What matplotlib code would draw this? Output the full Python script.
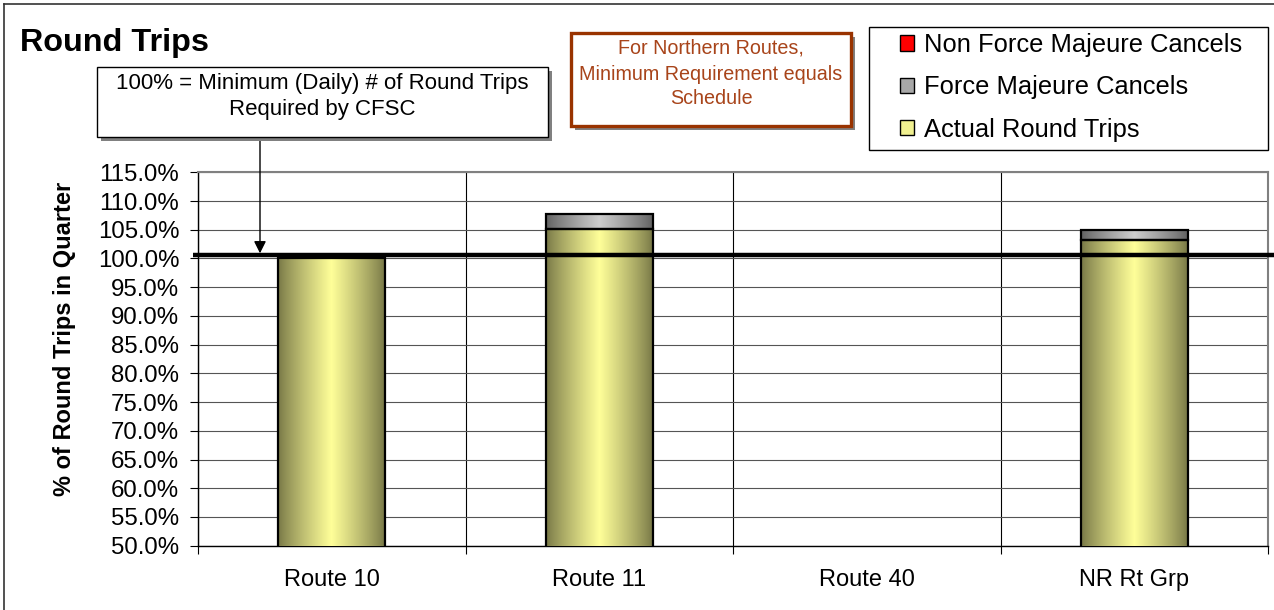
import numpy as np
import matplotlib
matplotlib.use("Agg")
import matplotlib.pyplot as plt
from matplotlib.patches import Rectangle, Patch
from matplotlib.lines import Line2D
import matplotlib.transforms as mtransforms

plt.rcParams['font.family'] = ['Liberation Sans', 'DejaVu Sans']

# ---------------- data ----------------
categories = ["Route 10", "Route 11", "Route 40", "NR Rt Grp"]
actual_round_trips = [100.0, 105.2, 0.0, 103.3]
force_majeure_cancels = [0.0, 2.6, 0.0, 1.7]
non_force_majeure_cancels = [0.0, 0.0, 0.0, 0.0]
y_ticks = [50, 55, 60, 65, 70, 75, 80, 85, 90, 95, 100, 105, 110, 115]
requirement_line = 100.55
series_labels = ["Actual Round Trips", "Force Majeure Cancels", "Non Force Majeure Cancels"]

W, H = 1274, 610
def fx(x):
    return x / W
def fy(y):
    return 1 - y / H

fig = plt.figure(figsize=(W / 100, H / 100), dpi=100)
ax = fig.add_axes([fx(198), fy(545.7), (1268 - 198) / W, (545.7 - 172.3) / H])
ymin, ymax = y_ticks[0], y_ticks[-1]

def gradient(dark, light, n=256):
    t = np.linspace(0, 1, n)
    s = 1 - np.abs(2 * t - 1)
    s = s ** 0.85
    dark = np.array(dark) / 255.0
    light = np.array(light) / 255.0
    img = dark[None, :] + (light - dark)[None, :] * s[:, None]
    return img[None, :, :]

grad_yellow = gradient((118, 118, 70), (255, 255, 153))
grad_gray = gradient((96, 96, 96), (205, 205, 205))
grad_red = gradient((150, 0, 0), (255, 0, 0))

x = np.arange(len(categories))
width = 0.4
actual = np.array(actual_round_trips)
fm = np.array(force_majeure_cancels)
nfm = np.array(non_force_majeure_cancels)

containers = []
for vals, bottom, grad in [(actual, None, grad_yellow),
                           (fm, actual, grad_gray),
                           (nfm, actual + fm, grad_red)]:
    bc = ax.bar(x, vals, width, bottom=bottom, facecolor='none',
                edgecolor='black', linewidth=1.6, zorder=3)
    containers.append(bc)
    for rect in bc:
        if rect.get_height() == 0:
            rect.set_visible(False)
            continue
        x0, y0 = rect.get_x(), rect.get_y()
        y1 = y0 + rect.get_height()
        lo, hi = max(y0, ymin), min(y1, ymax)
        if hi <= lo:
            continue
        ax.imshow(grad, extent=(x0, x0 + rect.get_width(), lo, hi),
                  aspect='auto', zorder=2.9, interpolation='bilinear')

ax.set_xlim(-0.5, len(categories) - 0.5)
ax.set_ylim(ymin, ymax)

# requirement line
trans = mtransforms.blended_transform_factory(ax.transAxes, ax.transData)
ax.plot([-0.005, 1.006], [requirement_line, requirement_line], transform=trans,
        color='black', lw=3.2, zorder=5, clip_on=False, solid_capstyle='butt')

# ticks / grid
ax.set_xticks(x)
ax.set_xticklabels(categories, fontsize=17)
ax.tick_params(axis='x', which='major', length=0, pad=17)
ax.set_xticks(np.arange(-0.5, len(categories), 1), minor=True)
ax.tick_params(axis='x', which='minor', length=5.5, width=0.8, direction='out')
ax.set_yticks(y_ticks)
ax.set_yticklabels([f"{v:.1f}%" for v in y_ticks], fontsize=17.3)
ax.tick_params(axis='y', length=5.5, width=0.8, pad=8)
ax.grid(axis='x', which='minor', color='black', lw=0.8)
ax.grid(axis='y', which='major', color='#555555', lw=0.8)
ax.set_axisbelow(True)
for s in ['left', 'bottom']:
    ax.spines[s].set_color('black')
    ax.spines[s].set_linewidth(1.0)
for s in ['top', 'right']:
    ax.spines[s].set_color('#808080')
    ax.spines[s].set_linewidth(1.5)

ax.set_ylabel("% of Round Trips in Quarter", fontsize=17, fontweight='bold')
ax.yaxis.set_label_coords(-0.114, 0.554)

# title
fig.text(fx(20), fy(43), "Round Trips", fontsize=23.3, fontweight='bold', va='center', ha='left')

# figure border (left & top)
fig.add_artist(Line2D([fx(4), fx(4)], [0, fy(4)], transform=fig.transFigure, color='#333333', lw=1.2))
fig.add_artist(Line2D([fx(4), 1], [fy(4), fy(4)], transform=fig.transFigure, color='#333333', lw=1.2))

# annotation boxes
def box(x0, y0, x1, y1, edge, lw, shadow=4):
    fig.add_artist(Rectangle((fx(x0 + shadow), fy(y1 + shadow)), (x1 - x0) / W, (y1 - y0) / H,
                             transform=fig.transFigure, facecolor='#808080', edgecolor='none', zorder=6))
    fig.add_artist(Rectangle((fx(x0), fy(y1)), (x1 - x0) / W, (y1 - y0) / H,
                             transform=fig.transFigure, facecolor='white', edgecolor=edge, lw=lw, zorder=7))

box(97, 67, 548, 137, 'black', 1.0)
fig.text(fx(322), fy(84), "100% = Minimum (Daily) # of Round Trips", fontsize=16,
         ha='center', va='center', zorder=8)
fig.text(fx(322), fy(110), "Required by CFSC", fontsize=16, ha='center', va='center', zorder=8)

# arrow
arrow_x = (260 - 198) / 267.5 - 0.5
ax.annotate("", xy=(arrow_x, requirement_line + 0.35), xycoords='data',
            xytext=(fx(260), fy(137)), textcoords='figure fraction',
            arrowprops=dict(arrowstyle='-|>', color='black', lw=1.0, mutation_scale=18,
                            shrinkA=0, shrinkB=0), annotation_clip=False, zorder=8)

brown = '#993300'
box(571, 33, 851, 126, brown, 2.4)
for yy, t in [(48, "For Northern Routes,"), (74, "Minimum Requirement equals"), (99, "Schedule")]:
    fig.text(fx(711), fy(yy), t, fontsize=14.2, color='#A8441A', ha='center', va='center', zorder=8)

# legend (frame drawn separately)
fig.add_artist(Rectangle((fx(869), fy(150)), (1268 - 869) / W, (150 - 27) / H,
                         transform=fig.transFigure, facecolor='white', edgecolor='black', lw=1.0, zorder=6))
handles = [Patch(facecolor='#ff0000', edgecolor='black', lw=1),
           Patch(facecolor='#a8a8a8', edgecolor='black', lw=1),
           Patch(facecolor='#f0f090', edgecolor='black', lw=1)]
labels = [series_labels[2], series_labels[1], series_labels[0]]
leg = fig.legend(handles, labels, loc='upper left', bbox_to_anchor=(fx(900), fy(33)),
                 bbox_transform=fig.transFigure, borderaxespad=0, fontsize=18.4,
                 frameon=False, handlelength=0.55, handleheight=0.55, handletextpad=0.4,
                 labelspacing=0.72, borderpad=0)
leg.set_zorder(10)

fig.savefig("out.png", dpi=100)
